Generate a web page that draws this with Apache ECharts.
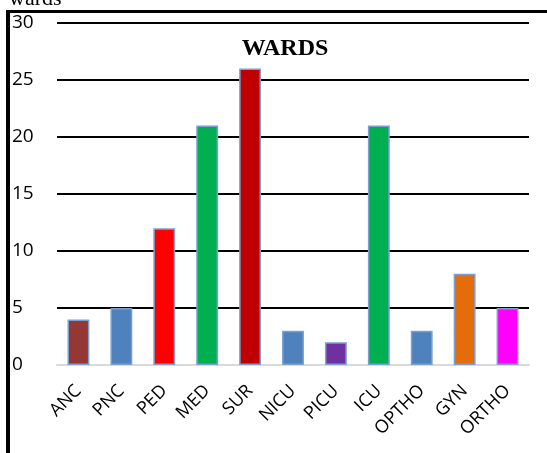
<!DOCTYPE html>
<html>
<head>
<meta charset="utf-8">
<script src="https://cdn.jsdelivr.net/npm/echarts@6/dist/echarts.min.js"></script>
<style>
html,body{margin:0;padding:0;background:#fff;}
#chart{width:547px;height:453px;}
</style>
</head>
<body>
<div id="chart"></div>
<script>
const categories = ['ANC','PNC','PED','MED','SUR','NICU','PICU','ICU','OPTHO','GYN','ORTHO'];
const values = [4,5,12,21,26,3,2,21,3,8,5];
const barColors = ['#953735','#4f81bd','#ff0000','#00b050','#c00000','#4f81bd','#7030a0','#00b050','#4f81bd','#e46c0a','#ff00ff'];
const yTicks = [0,5,10,15,20,25,30];

const chart = echarts.init(document.getElementById('chart'), null, {renderer:'canvas'});
chart.setOption({
  animation:false,
  backgroundColor:'#fff',
  title:{
    text:'WARDS',
    left:280, top:32, textAlign:'center',
    textStyle:{fontFamily:'Liberation Serif', fontWeight:'bold', fontSize:24, color:'#000'}
  },
  graphic:[
    {type:'rect', shape:{x:6,y:10,width:541,height:3}, style:{fill:'#000'}},
    {type:'rect', shape:{x:6,y:10,width:4,height:443}, style:{fill:'#000'}},
    {type:'text', left:9, top:-12, style:{text:'wards', font:'22px "Liberation Serif"', fill:'#000'}}
  ],
  grid:{left:57, right:18, top:23, bottom:88},
  xAxis:{
    type:'category',
    data:categories,
    axisLine:{lineStyle:{color:'#d9d9d9', width:2}},
    axisTick:{show:false},
    axisLabel:{rotate:45, margin:23, fontFamily:'Open Sans', fontSize:18, color:'#000', interval:0}
  },
  yAxis:{
    type:'value',
    min:yTicks[0], max:yTicks[yTicks.length-1], interval:5,
    axisLine:{show:false},
    axisTick:{show:false},
    splitLine:{lineStyle:{color:'#000', width:2}},
    axisLabel:{align:'left', margin:45, fontFamily:'Open Sans', fontSize:19, color:'#000'}
  },
  series:[{
    type:'bar',
    barWidth:'51%',
    data:values.map((v,i)=>({value:v, itemStyle:{color:barColors[i]}})),
    itemStyle:{borderColor:'#7ba0d0', borderWidth:1.5}
  }]
});
</script>
</body>
</html>
